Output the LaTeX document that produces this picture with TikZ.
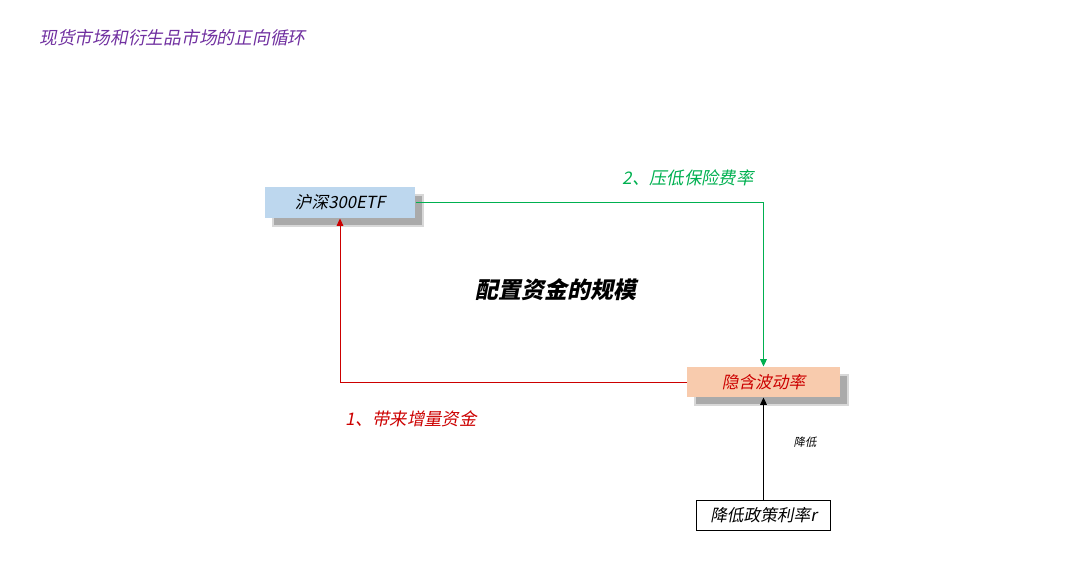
\documentclass[tikz,border=0pt]{standalone}
\usepackage{fontspec}
\newfontfamily\cjk{Noto Sans CJK SC}[FakeSlant=0.2]
\usetikzlibrary{arrows.meta}

\definecolor{boxblue}{RGB}{189,215,238}
\definecolor{boxorange}{RGB}{248,203,173}
\definecolor{flowgreen}{RGB}{0,176,80}
\definecolor{flowred}{RGB}{204,0,0}
\definecolor{titlepurple}{RGB}{112,48,160}

\tikzset{every picture/.style={line width=0.75pt}}
\tikzset{
  shadowbox/.style={inner sep=0pt, font=\cjk\fontsize{12.5}{14}\selectfont},
  flowarrow/.style={-{Triangle[length=5.5pt,width=5pt]}},
}

\begin{document}
\begin{tikzpicture}[x=0.75pt,y=0.75pt,yscale=-1,xscale=1]
\useasboundingbox (0,0) rectangle (1080,573);

%Shadows
\fill [gray!60, opacity=0.5] (272,194) rectangle (424,227);
\fill [gray!75, opacity=0.8] (274,196) rectangle (422,225);
\fill [gray!60, opacity=0.5] (694,374) rectangle (849,406);
\fill [gray!75, opacity=0.8] (696,376) rectangle (847,404);

% Boxes
\node [shadowbox, fill=boxblue, minimum width=112.5pt, minimum height=23.25pt] (etf) at (340,202.5) {沪深300ETF};
\node [shadowbox, fill=boxorange, text=flowred, minimum width=114.75pt, minimum height=22.5pt] (vol) at (763.5,382) {隐含波动率};
\node [shadowbox, draw, fill=white, minimum width=100.5pt, minimum height=22.5pt] (rate) at (763.5,515) {降低政策利率\textit{r}};

%Connectors
\draw [flowarrow, color=flowgreen] (etf.east) -| (vol.north) ;
\draw [flowarrow, color=flowred] (vol.west) -| (etf.south) ;
\draw [flowarrow] (rate.north) -- (vol.south) ;

% Text Node
\draw (38,38) node [anchor=west][inner sep=0.75pt]  [font=\cjk\fontsize{13.3}{15}\selectfont, color=titlepurple]  (title) {现货市场和衍生品市场的正向循环};
% Text Node
\draw (688,178) node [inner sep=0.75pt]  [font=\cjk\fontsize{13}{15}\selectfont, color=flowgreen]  (lblgreen) {2、压低保险费率};
% Text Node
\draw (411,419) node [inner sep=0.75pt]  [font=\cjk\fontsize{13}{15}\selectfont, color=flowred]  (lblred) {1、带来增量资金};
% Text Node
\draw (556,290) node [inner sep=0.75pt]  [font=\cjk\bfseries\fontsize{17.2}{19}\selectfont]  (scale) {配置资金的规模};
% Text Node
\draw (805,442) node [inner sep=0.75pt]  [font=\cjk\fontsize{8.5}{10}\selectfont]  (lower) {降低};

\end{tikzpicture}
\end{document}
